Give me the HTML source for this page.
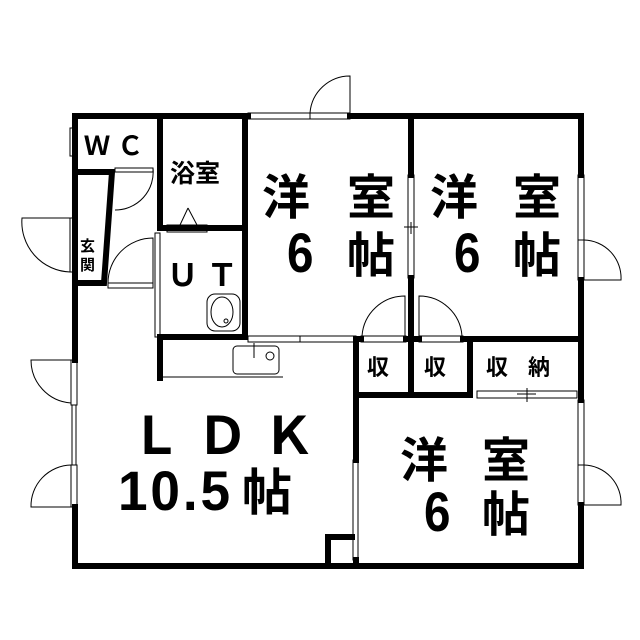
<!DOCTYPE html>
<html><head><meta charset="utf-8"><style>
html,body{margin:0;padding:0;background:#fff}
svg{display:block}
text{font-family:"Liberation Sans","Noto Sans CJK JP",sans-serif;fill:#000;font-weight:bold}
.j{font-family:"Noto Sans CJK JP",sans-serif;font-weight:bold}
</style></head><body>
<svg width="640" height="640" viewBox="0 0 640 640" xmlns="http://www.w3.org/2000/svg">
<g fill="none" stroke="#000" stroke-linecap="square">
<path d="M75,360 V116 H248" stroke-width="6"/>
<path d="M350,116 H581 V175" stroke-width="6"/>
<path d="M581,280 V400" stroke-width="6"/>
<path d="M581,505 V566 H75 V507" stroke-width="6"/>
<path d="M160,116 V228 H245" stroke-width="6"/>
<path d="M245,116 V337 H160 V378" stroke-width="6"/>
<path d="M75,172 H112 L104,283 H75" stroke-width="6"/>
<path d="M411,116 V175 M411,278 V395 M356,339 H361 M406,339 H419 M463,339 H581" stroke-width="6"/>
<path d="M470,339 V395 H356 V339 M356,339 V460" stroke-width="6"/>
<path d="M356,560 V566 M328,566 V537 H352" stroke-width="6"/>
</g>
<g fill="none" stroke="#000" stroke-width="1">
<rect x="70" y="128" width="6" height="28"/>
<rect x="248" y="113" width="62" height="6"/>
<rect x="310" y="113" width="40" height="6"/>
<path d="M350,113 V76 A40,40 0 0 0 310,113"/>
<rect x="408" y="175" width="6" height="103"/>
<path d="M404,227 H418 M411,222 V234"/>
<rect x="578" y="175" width="6" height="65"/>
<rect x="578" y="240" width="6" height="40"/>
<path d="M584,240 A38,38 0 0 1 621,280 H584"/>
<rect x="578" y="400" width="6" height="65"/>
<rect x="578" y="465" width="6" height="40"/>
<path d="M584,465 A38,38 0 0 1 621,505 H584"/>
<rect x="477" y="391" width="100" height="7"/>
<path d="M517,394 H536 M527,388 V402"/>
<rect x="353" y="460" width="5" height="100"/>
<rect x="361" y="336" width="45" height="6"/>
<path d="M405,336 V296 A43,43 0 0 0 362,336"/>
<rect x="419" y="336" width="44" height="6"/>
<path d="M419,336 V296 A43,43 0 0 1 462,336"/>
<rect x="248" y="336" width="52" height="6"/>
<rect x="300" y="336" width="56" height="6"/>
<rect x="70" y="218" width="7" height="54"/>
<path d="M70,218 H22 A50,50 0 0 0 70,272"/>
<rect x="71" y="360" width="6" height="45"/>
<path d="M71,360 H31 A43,43 0 0 0 71,403"/>
<rect x="72" y="405" width="4" height="60"/>
<rect x="71" y="465" width="6" height="42"/>
<path d="M71,465 A41,41 0 0 0 31,507 H71"/>
<rect x="115" y="168" width="38" height="4"/>
<path d="M115,210 A38,38 0 0 0 153,168"/>
<rect x="108" y="283" width="45" height="5"/>
<path d="M108,283 A45,45 0 0 1 153,238 V283"/>
<rect x="155" y="233" width="5" height="104"/>
<rect x="167" y="225" width="40" height="7"/>
<path d="M188,208 L180,225 M188,208 L197,225"/>
<path d="M160,377 H283"/>
<rect x="207" y="294" width="33" height="37" rx="8"/>
<ellipse cx="222" cy="312" rx="11" ry="15"/>
<circle cx="226" cy="321" r="2"/>
<rect x="233" y="346" width="46" height="28" rx="4"/>
<circle cx="270" cy="356" r="4"/>
<path d="M254,343 V358"/>
</g>
<text x="84" y="155" font-size="26">Ｗ Ｃ</text>
<text x="170" y="182" font-size="25" class="j">浴室</text>
<text x="80" y="251" font-size="15" class="j">玄</text>
<text x="80" y="270" font-size="15" class="j">関</text>
<text x="167" y="286" font-size="31">Ｕ Ｔ</text>
<g class="j" font-size="22">
<text x="367" y="375">収</text><text x="424" y="375">収</text>
<text x="486" y="375">収</text><text x="528" y="375">納</text>
</g>
<g class="j" font-size="48">
<text x="262" y="214">洋</text><text x="347" y="214">室</text>
<text x="430" y="214">洋</text><text x="513" y="214">室</text>
<text x="400" y="477">洋</text><text x="482" y="477">室</text>
<text x="347" y="272">帖</text><text x="513" y="272">帖</text><text x="482" y="531">帖</text>
</g>
<g font-size="56" font-family="Liberation Sans">
<text transform="translate(287,272) scale(0.85,1)">6</text>
<text transform="translate(454,272) scale(0.85,1)">6</text>
<text transform="translate(424,531) scale(0.85,1)">6</text>
<text transform="translate(118,510) scale(0.95,1)" letter-spacing="3">10.5</text>
</g>
<text x="242" y="510" font-size="50" class="j">帖</text>
<text x="130" y="454" font-size="52">Ｌ Ｄ Ｋ</text>
</svg>
</body></html>
